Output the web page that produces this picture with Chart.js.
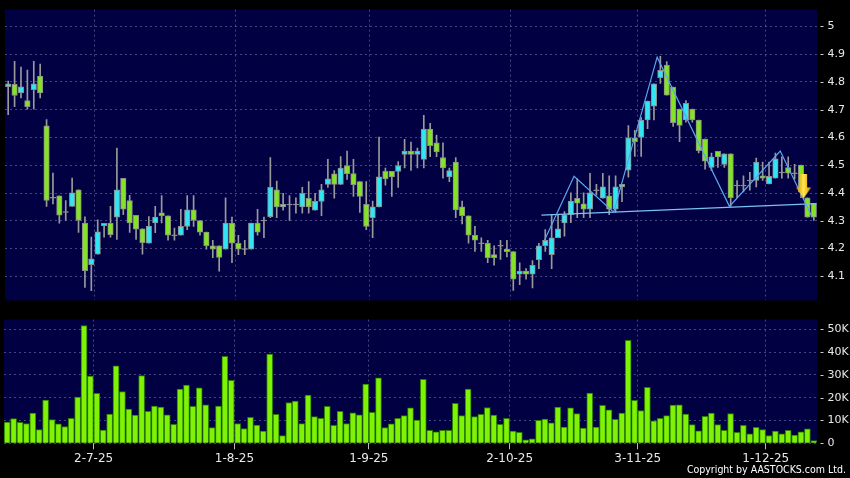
<!DOCTYPE html>
<html>
<head>
<meta charset="utf-8">
<script src="https://cdn.jsdelivr.net/npm/chart.js@4.4.1/dist/chart.umd.min.js"></script>
<style>
  body { margin: 0; background: #000; }
  #wrap { position: relative; width: 850px; height: 478px; background: #000; overflow: hidden; }
  #priceChart { position: absolute; left: 0; top: 0; }
  #volumeChart { position: absolute; left: 0; top: 310px; }
  #copy { position: absolute; right: 4px; top: 462px; font: 10.5px "DejaVu Sans Condensed", "DejaVu Sans", sans-serif; color: #fff; line-height: 14px; }
</style>
</head>
<body>
<div id="wrap">
  <canvas id="priceChart" width="850" height="310"></canvas>
  <canvas id="volumeChart" width="850" height="168"></canvas>
  <div id="copy">Copyright by AASTOCKS.com Ltd.</div>
</div>
<script>
// Date ticks (placed on the bar index where the month starts)
const dateLabels = ['2-7-25', '1-8-25', '1-9-25', '2-10-25', '3-11-25', '1-12-25'];
const datePos = [13.5, 35.5, 56.5, 78.5, 98.5, 118.5];

const priceTicks = [4.1, 4.2, 4.3, 4.4, 4.5, 4.6, 4.7, 4.8, 4.9, 5];
const volumeTicks = [0, 10, 20, 30, 40, 50];

// Daily candles
const opens = [4.783, 4.791, 4.760, 4.733, 4.772, 4.821, 4.642, 4.383, 4.390, 4.332,
  4.352, 4.411, 4.292, 4.142, 4.180, 4.282, 4.291, 4.313, 4.453, 4.373,
  4.320, 4.271, 4.219, 4.292, 4.329, 4.318, 4.248, 4.248, 4.280, 4.339,
  4.301, 4.259, 4.210, 4.210, 4.198, 4.292, 4.219, 4.198, 4.198, 4.292,
  4.301, 4.315, 4.411, 4.350, 4.359, 4.359, 4.350, 4.381, 4.338, 4.370,
  4.431, 4.469, 4.431, 4.499, 4.470, 4.441, 4.359, 4.311, 4.350, 4.478,
  4.478, 4.478, 4.539, 4.551, 4.539, 4.521, 4.630, 4.581, 4.528, 4.458,
  4.511, 4.350, 4.318, 4.248, 4.219, 4.219, 4.178, 4.210, 4.198, 4.189,
  4.108, 4.119, 4.108, 4.160, 4.210, 4.178, 4.239, 4.292, 4.322, 4.381,
  4.361, 4.342, 4.410, 4.381, 4.390, 4.342, 4.431, 4.482, 4.599, 4.600,
  4.663, 4.713, 4.815, 4.861, 4.781, 4.702, 4.663, 4.702, 4.663, 4.594,
  4.492, 4.550, 4.503, 4.541, 4.427, 4.427, 4.445, 4.445, 4.462, 4.433,
  4.453, 4.474, 4.492, 4.471, 4.501, 4.383, 4.363];
const highs = [4.803, 4.874, 4.853, 4.843, 4.874, 4.864, 4.664, 4.472, 4.390, 4.373,
  4.454, 4.411, 4.314, 4.241, 4.303, 4.291, 4.352, 4.562, 4.453, 4.392,
  4.320, 4.271, 4.315, 4.352, 4.391, 4.318, 4.274, 4.341, 4.391, 4.391,
  4.301, 4.259, 4.230, 4.210, 4.383, 4.313, 4.248, 4.230, 4.292, 4.341,
  4.313, 4.528, 4.443, 4.399, 4.391, 4.383, 4.420, 4.441, 4.399, 4.431,
  4.521, 4.481, 4.531, 4.551, 4.521, 4.441, 4.441, 4.371, 4.601, 4.490,
  4.478, 4.513, 4.593, 4.583, 4.562, 4.680, 4.651, 4.609, 4.581, 4.490,
  4.528, 4.371, 4.318, 4.280, 4.239, 4.230, 4.210, 4.230, 4.230, 4.189,
  4.149, 4.128, 4.157, 4.219, 4.268, 4.321, 4.321, 4.333, 4.401, 4.451,
  4.401, 4.471, 4.431, 4.471, 4.462, 4.462, 4.431, 4.643, 4.626, 4.672,
  4.731, 4.793, 4.892, 4.873, 4.781, 4.702, 4.733, 4.702, 4.663, 4.594,
  4.544, 4.550, 4.541, 4.541, 4.445, 4.462, 4.474, 4.526, 4.511, 4.511,
  4.544, 4.530, 4.530, 4.503, 4.501, 4.383, 4.363];
const lows = [4.682, 4.711, 4.742, 4.702, 4.702, 4.742, 4.352, 4.361, 4.291, 4.301,
  4.352, 4.258, 4.060, 4.048, 4.180, 4.241, 4.241, 4.233, 4.322, 4.258,
  4.233, 4.180, 4.219, 4.257, 4.292, 4.230, 4.230, 4.248, 4.268, 4.280,
  4.248, 4.198, 4.167, 4.119, 4.198, 4.149, 4.178, 4.178, 4.198, 4.248,
  4.239, 4.311, 4.311, 4.338, 4.301, 4.327, 4.327, 4.327, 4.338, 4.318,
  4.420, 4.381, 4.431, 4.449, 4.388, 4.330, 4.268, 4.239, 4.350, 4.428,
  4.388, 4.420, 4.490, 4.481, 4.490, 4.490, 4.531, 4.531, 4.453, 4.441,
  4.311, 4.289, 4.219, 4.190, 4.190, 4.149, 4.140, 4.161, 4.170, 4.049,
  4.070, 4.090, 4.058, 4.128, 4.190, 4.128, 4.239, 4.245, 4.293, 4.311,
  4.311, 4.311, 4.392, 4.381, 4.322, 4.331, 4.369, 4.457, 4.532, 4.532,
  4.632, 4.663, 4.795, 4.752, 4.640, 4.585, 4.655, 4.655, 4.544, 4.486,
  4.480, 4.492, 4.492, 4.352, 4.383, 4.404, 4.410, 4.422, 4.445, 4.433,
  4.453, 4.453, 4.453, 4.451, 4.383, 4.313, 4.301];
const closes = [4.793, 4.751, 4.782, 4.711, 4.793, 4.760, 4.373, 4.383, 4.320, 4.332,
  4.401, 4.301, 4.120, 4.163, 4.260, 4.291, 4.250, 4.411, 4.342, 4.292,
  4.270, 4.221, 4.281, 4.313, 4.318, 4.248, 4.248, 4.280, 4.339, 4.301,
  4.259, 4.210, 4.198, 4.168, 4.292, 4.219, 4.198, 4.198, 4.292, 4.259,
  4.301, 4.420, 4.350, 4.359, 4.359, 4.359, 4.399, 4.350, 4.370, 4.411,
  4.451, 4.431, 4.490, 4.470, 4.430, 4.388, 4.280, 4.350, 4.458, 4.451,
  4.458, 4.499, 4.551, 4.539, 4.551, 4.630, 4.570, 4.548, 4.490, 4.481,
  4.339, 4.318, 4.248, 4.230, 4.219, 4.167, 4.167, 4.210, 4.189, 4.090,
  4.119, 4.108, 4.140, 4.210, 4.230, 4.239, 4.271, 4.321, 4.371, 4.363,
  4.342, 4.401, 4.410, 4.422, 4.342, 4.422, 4.422, 4.599, 4.585, 4.663,
  4.731, 4.793, 4.842, 4.752, 4.653, 4.643, 4.723, 4.663, 4.552, 4.515,
  4.530, 4.530, 4.541, 4.383, 4.427, 4.427, 4.445, 4.511, 4.453, 4.460,
  4.523, 4.474, 4.471, 4.471, 4.404, 4.313, 4.313];

// Volume in thousands of shares
const volumesK = [9.3, 10.8, 9.2, 8.7, 13.3, 6.0, 19.0, 10.4, 8.5, 7.3,
  10.9, 20.3, 51.6, 29.5, 21.9, 5.8, 12.8, 34.0, 22.7, 15.0,
  12.4, 29.7, 14.0, 16.3, 15.9, 12.5, 8.3, 23.8, 25.5, 16.2,
  24.3, 16.9, 6.9, 16.3, 38.1, 27.6, 8.7, 6.4, 11.4, 8.0,
  5.4, 39.1, 12.7, 3.4, 17.9, 18.5, 8.6, 21.1, 11.7, 10.9,
  16.2, 7.9, 14.0, 8.7, 13.4, 12.5, 26.0, 13.6, 28.7, 6.9,
  8.5, 10.9, 12.1, 15.6, 10.2, 28.1, 5.7, 5.0, 5.7, 5.7,
  17.5, 12.1, 23.8, 11.7, 12.7, 15.7, 12.4, 8.3, 10.9, 5.4,
  4.8, 1.5, 2.0, 10.1, 10.6, 9.0, 15.9, 7.1, 15.6, 13.0,
  6.7, 22.0, 7.1, 16.6, 14.7, 10.5, 13.3, 45.2, 18.8, 14.3,
  24.5, 9.8, 10.9, 12.1, 16.8, 16.9, 12.8, 8.2, 5.5, 11.8,
  13.3, 8.2, 5.7, 13.0, 4.8, 7.9, 4.1, 7.0, 6.0, 3.4,
  5.4, 4.1, 5.7, 3.6, 5.0, 6.3, 1.2];

// Drawn pattern (zigzag + neckline) and the signal arrow, in bar index / price
const patternX = [83.9, 88.5, 94.7, 101.5, 112.8, 120.75, 125.75];
const patternY = [4.231, 4.460, 4.331, 4.889, 4.352, 4.551, 4.313];
const necklineX = [83.4, 126.4];
const necklineY = [4.320, 4.362];
const arrowX = [124.4];
const arrowY = [4.422];

const UP = '#33e4f2';
const DOWN = '#84e326';
const FLAT = '#9a9a9a';
const NAVY = '#000042';
const GRID = 'rgba(125,125,180,0.55)';
const LABEL = '#e8e8e8';

const plotBg = {
  id: 'plotBg',
  beforeDraw(chart) {
    const a = chart.chartArea;
    const ctx = chart.ctx;
    ctx.save();
    ctx.fillStyle = NAVY;
    ctx.fillRect(a.left, a.top, a.right - a.left, a.bottom - a.top);
    ctx.restore();
  }
};

function makeArrow() {
  const c = document.createElement('canvas');
  c.width = 15; c.height = 25;
  const g = c.getContext('2d');
  const grad = g.createLinearGradient(0, 0, 15, 0);
  grad.addColorStop(0, '#d88c00');
  grad.addColorStop(0.5, '#ffe94d');
  grad.addColorStop(1, '#d88c00');
  g.fillStyle = grad;
  g.beginPath();
  g.moveTo(4, 0); g.lineTo(11, 0); g.lineTo(11, 13); g.lineTo(15, 13);
  g.lineTo(7.5, 24); g.lineTo(0, 13); g.lineTo(4, 13);
  g.closePath();
  g.fill();
  return c;
}

function xGridScale(showLabels) {
  return {
    type: 'linear',
    min: -0.5,
    max: 126.5,
    offset: false,
    afterBuildTicks: s => { s.ticks = datePos.map(v => ({ value: v })); },
    afterFit: s => { s.height = showLabels ? 34.7 : 0; },
    border: { display: false, dash: [2, 3] },
    grid: {
      offset: false,
      color: GRID,
      drawTicks: showLabels,
      tickLength: 6,
      tickColor: '#bbbbbb',
      tickBorderDash: []
    },
    ticks: {
      display: showLabels,
      autoSkip: false,
      maxRotation: 0,
      padding: 2,
      color: LABEL,
      font: { family: 'DejaVu Sans', size: 12 },
      callback: (v, i) => dateLabels[i]
    }
  };
}

function yScale(min, max, tickList, fmt) {
  return {
    position: 'right',
    min: min,
    max: max,
    afterBuildTicks: s => { s.ticks = tickList.map(v => ({ value: v })); },
    afterFit: s => { s.width = 33; },
    border: { display: false, dash: [2, 3] },
    grid: { color: GRID, drawTicks: false },
    ticks: {
      padding: 3,
      color: LABEL,
      font: { family: 'DejaVu Sans', size: 11 },
      callback: v => '- ' + fmt(v)
    }
  };
}

function createPriceChart() {
  const wicks = [], bodies = [], bodyColors = [];
  for (let i = 0; i < opens.length; i++) {
    wicks.push({ x: i, y: [lows[i], highs[i]] });
    let lo = Math.min(opens[i], closes[i]);
    let hi = Math.max(opens[i], closes[i]);
    if (hi - lo < 0.004) { lo -= 0.0015; hi += 0.0015; }
    bodies.push({ x: i, y: [lo, hi] });
    if (closes[i] - opens[i] > 0.004) bodyColors.push(UP);
    else if (opens[i] - closes[i] > 0.004) bodyColors.push(DOWN);
    else bodyColors.push(FLAT);
  }

  new Chart(document.getElementById('priceChart'), {
    type: 'bar',
    data: {
      datasets: [
        {
          type: 'scatter',
          data: arrowX.map((x, i) => ({ x: x, y: arrowY[i] })),
          pointStyle: makeArrow(),
          order: 1
        },
        {
          type: 'line',
          data: patternX.map((x, i) => ({ x: x, y: patternY[i] })),
          borderColor: '#5aa6ee',
          borderWidth: 1.2,
          pointRadius: 0,
          order: 2
        },
        {
          type: 'line',
          data: necklineX.map((x, i) => ({ x: x, y: necklineY[i] })),
          borderColor: '#7cc0f5',
          borderWidth: 1.2,
          pointRadius: 0,
          order: 2
        },
        {
          data: bodies,
          backgroundColor: bodyColors,
          borderColor: '#8c8c8c',
          borderWidth: 1,
          borderSkipped: false,
          barThickness: 5.5,
          grouped: false,
          order: 3
        },
        {
          data: wicks,
          backgroundColor: '#9a9a9a',
          borderWidth: 0,
          barThickness: 1,
          grouped: false,
          order: 4
        }
      ]
    },
    options: {
      responsive: false,
      animation: false,
      devicePixelRatio: 1,
      layout: { padding: { top: 5, left: 4, right: 0, bottom: 5 } },
      plugins: { legend: { display: false }, tooltip: { enabled: false } },
      scales: {
        x: xGridScale(false),
        y: yScale(4.0133, 5.0604, priceTicks, v => String(Math.round(v * 10) / 10))
      }
    },
    plugins: [plotBg]
  });
}

function createVolumeChart() {
  new Chart(document.getElementById('volumeChart'), {
    type: 'bar',
    data: {
      datasets: [{
        data: volumesK.map((v, i) => ({ x: i, y: v })),
        backgroundColor: '#7ff205',
        borderColor: '#2a7d00',
        borderWidth: 1,
        barThickness: 6
      }]
    },
    options: {
      responsive: false,
      animation: false,
      devicePixelRatio: 1,
      layout: { padding: { top: 9.3, left: 4, right: 0, bottom: 0 } },
      plugins: { legend: { display: false }, tooltip: { enabled: false } },
      scales: {
        x: xGridScale(true),
        y: yScale(0, 54.24, volumeTicks, v => v === 0 ? '0' : v + 'K')
      }
    },
    plugins: [plotBg]
  });
}

createPriceChart();
createVolumeChart();
</script>
</body>
</html>
